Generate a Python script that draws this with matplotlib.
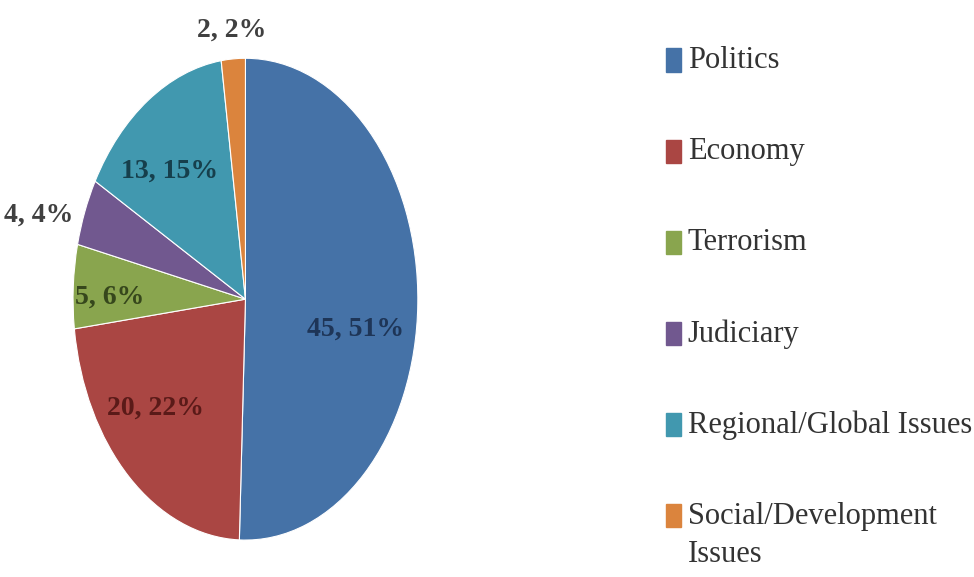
import matplotlib.pyplot as plt
from matplotlib.patches import Rectangle
import numpy as np

# Data
categories = ["Politics", "Economy", "Terrorism", "Judiciary",
              "Regional/Global Issues", "Social/Development\nIssues"]
counts = [45, 20, 5, 4, 13, 2]
percents = [51, 22, 6, 4, 15, 2]

colors = ["#4572A7", "#AA4643", "#89A54E", "#71588F", "#4198AF", "#DB843D"]
label_colors = ["#1E3557", "#5A1A18", "#36471C", "#404040", "#163F4C", "#404040"]
# label placement: distance from centre and small angle nudge (degrees)
label_radius = [0.65, 0.69, 0.79, 1.25, 0.69, 1.12]
label_shift = [-10, -6.5, 2.5, 5, 5, 0]

plt.rcParams['font.family'] = ['Liberation Serif', 'DejaVu Serif']

fig = plt.figure(figsize=(9.74, 5.77), dpi=100)
# elliptical pie: axes taller than wide, aspect left as auto
ax = fig.add_axes([0.075, 0.064, 0.354, 0.835])
wedges, _ = ax.pie(counts, colors=colors, startangle=90, counterclock=False,
                   wedgeprops=dict(edgecolor="white", linewidth=0.8))
ax.set_aspect("auto")
ax.set_xlim(-1, 1)
ax.set_ylim(-1, 1)
ax.axis("off")

# data labels "count, pct%"
for w, n, p, r, s, c in zip(wedges, counts, percents, label_radius, label_shift, label_colors):
    ang = np.deg2rad((w.theta1 + w.theta2) / 2 + s)
    ax.text(r * np.cos(ang), r * np.sin(ang), f"{n}, {p}%", ha="center", va="center",
            fontsize=20, fontweight="bold", color=c, clip_on=False)

# legend drawn by hand so the two-line entry keeps its square on the first line
y0 = 0.896
step = 0.158
for i, (lab, col) in enumerate(zip(categories, colors)):
    y = y0 - i * step
    fig.add_artist(Rectangle((0.684, y - 0.020), 0.0154, 0.040,
                             transform=fig.transFigure, color=col))
    fig.text(0.706, y + 0.024, lab, fontsize=22, color="#333333",
             va="top", ha="left", linespacing=1.42)

fig.savefig("out.png", dpi=100, facecolor="white")
